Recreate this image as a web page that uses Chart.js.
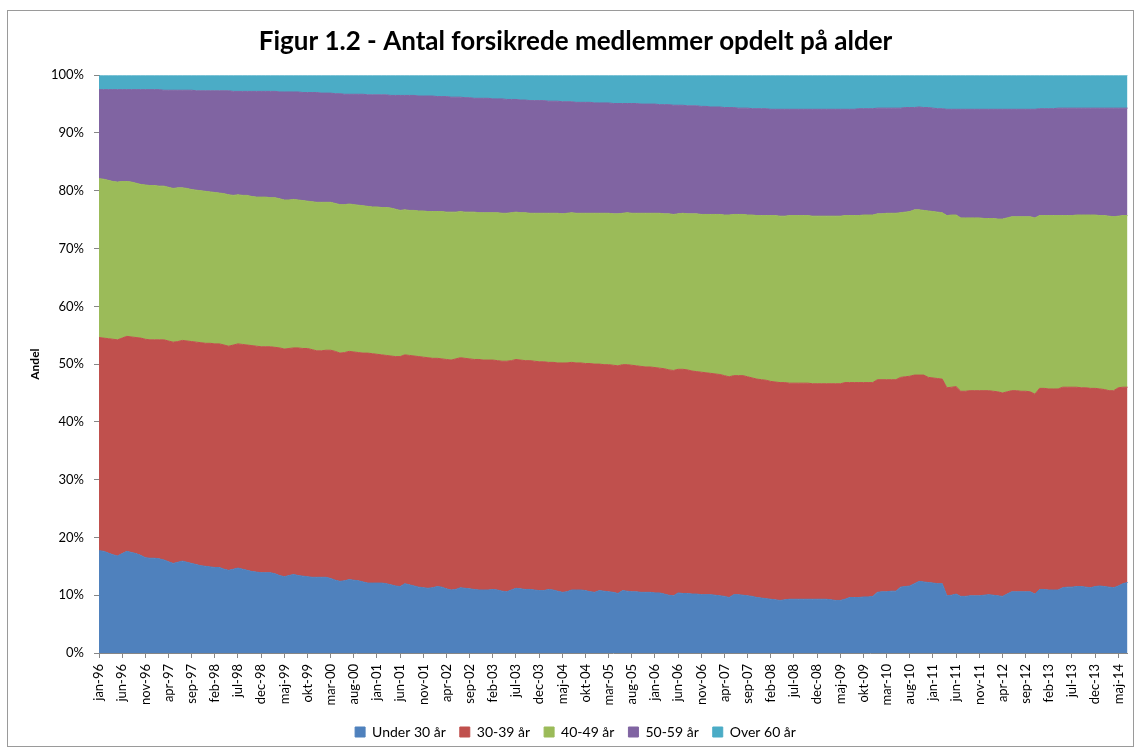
<!DOCTYPE html>
<html>
<head>
<meta charset="utf-8">
<script src="https://cdn.jsdelivr.net/npm/chart.js@4.4.1/dist/chart.umd.min.js"></script>
<style>
  html, body { margin: 0; padding: 0; background: #fff; }
  #wrap { position: relative; width: 1140px; height: 749px; }
  #frame { position: absolute; left: 7px; top: 10px; width: 1125px; height: 735px; border: 1px solid #9a9a9a; }
  #chart { position: absolute; left: 0; top: 0; }
</style>
</head>
<body>
<div id="wrap">
  <div id="frame"></div>
  <canvas id="chart" width="1140" height="749"></canvas>
</div>
<script>
// Month names (Danish) and years on the category axis, jan-96 .. jul-14
const monthNames = ['jan', 'feb', 'mar', 'apr', 'maj', 'jun', 'jul', 'aug', 'sep', 'okt', 'nov', 'dec'];
const years = ['96', '97', '98', '99', '00', '01', '02', '03', '04', '05', '06', '07', '08', '09', '10', '11', '12', '13', '14'];

// Upper edge of each band in percent
// Under 30 år (top of blue band)
const topUnder30 = [
  17.7, 17.6, 17.3, 17.0, 16.8, 17.2, 17.6, 17.4, 17.2, 16.9, 16.5, 16.4,
  16.4, 16.3, 16.1, 15.8, 15.5, 15.7, 15.9, 15.7, 15.5, 15.3, 15.1, 15.0,
  14.9, 14.8, 14.8, 14.5, 14.3, 14.5, 14.7, 14.5, 14.3, 14.1, 14.0, 13.9,
  13.9, 13.9, 13.7, 13.4, 13.2, 13.4, 13.6, 13.4, 13.3, 13.2, 13.1, 13.1,
  13.1, 13.1, 12.9, 12.6, 12.4, 12.5, 12.7, 12.6, 12.5, 12.3, 12.1, 12.1,
  12.1, 12.1, 12.0, 11.8, 11.6, 11.5, 12.0, 11.8, 11.6, 11.4, 11.3, 11.2,
  11.3, 11.5, 11.4, 11.1, 10.9, 11.0, 11.3, 11.2, 11.1, 11.0, 10.9, 10.9,
  10.9, 11.0, 10.9, 10.7, 10.6, 10.9, 11.2, 11.1, 11.0, 11.0, 10.9, 10.8,
  10.8, 11.0, 10.9, 10.7, 10.5, 10.6, 10.9, 10.9, 10.9, 10.8, 10.6, 10.5,
  10.8, 10.7, 10.6, 10.5, 10.3, 10.8, 10.7, 10.6, 10.6, 10.5, 10.5, 10.5,
  10.4, 10.4, 10.2, 10.0, 9.9, 10.4, 10.3, 10.3, 10.2, 10.2, 10.1, 10.1,
  10.1, 10.0, 9.9, 9.8, 9.6, 10.1, 10.1, 10.0, 9.9, 9.8, 9.6, 9.5,
  9.4, 9.3, 9.2, 9.1, 9.2, 9.3, 9.3, 9.3, 9.3, 9.3, 9.3, 9.3,
  9.3, 9.3, 9.2, 9.1, 9.1, 9.3, 9.6, 9.6, 9.6, 9.7, 9.7, 9.8,
  10.5, 10.6, 10.6, 10.7, 10.7, 11.4, 11.5, 11.6, 12.0, 12.4, 12.3, 12.2,
  12.1, 12.0, 12.0, 9.9, 10.0, 10.2, 9.8, 9.8, 9.9, 9.9, 9.9, 10.0,
  10.1, 10.0, 9.9, 9.8, 10.2, 10.6, 10.6, 10.6, 10.6, 10.6, 10.2, 11.0,
  11.0, 10.9, 10.9, 10.9, 11.3, 11.4, 11.4, 11.5, 11.5, 11.4, 11.3, 11.5,
  11.6, 11.5, 11.4, 11.3, 11.6, 12.0, 12.2
];

// 30-39 år (top of red band)
const top30to39 = [
  54.6, 54.5, 54.4, 54.3, 54.2, 54.5, 54.8, 54.7, 54.6, 54.5, 54.3, 54.2,
  54.2, 54.2, 54.2, 54.0, 53.8, 53.9, 54.1, 54.0, 53.9, 53.8, 53.7, 53.6,
  53.6, 53.5, 53.5, 53.3, 53.1, 53.3, 53.5, 53.4, 53.3, 53.2, 53.1, 53.0,
  53.0, 53.0, 52.9, 52.8, 52.6, 52.7, 52.8, 52.8, 52.7, 52.7, 52.5, 52.3,
  52.3, 52.4, 52.4, 52.2, 51.9, 52.0, 52.2, 52.1, 52.0, 51.9, 51.9, 51.8,
  51.7, 51.6, 51.5, 51.4, 51.3, 51.3, 51.6, 51.5, 51.4, 51.3, 51.2, 51.1,
  51.0, 51.0, 50.9, 50.8, 50.7, 50.9, 51.1, 51.0, 50.9, 50.8, 50.8, 50.7,
  50.7, 50.7, 50.6, 50.5, 50.5, 50.6, 50.8, 50.7, 50.6, 50.6, 50.5, 50.4,
  50.4, 50.3, 50.3, 50.2, 50.2, 50.2, 50.3, 50.2, 50.2, 50.1, 50.1, 50.0,
  50.0, 49.9, 49.9, 49.8, 49.7, 49.9, 49.9, 49.8, 49.7, 49.6, 49.5, 49.5,
  49.4, 49.3, 49.2, 49.0, 48.9, 49.1, 49.1, 49.0, 48.8, 48.7, 48.6, 48.5,
  48.4, 48.3, 48.2, 48.0, 47.8, 48.0, 48.0, 48.0, 47.8, 47.6, 47.4, 47.3,
  47.2, 47.0, 46.9, 46.8, 46.8, 46.7, 46.7, 46.7, 46.7, 46.7, 46.6, 46.6,
  46.6, 46.6, 46.6, 46.6, 46.6, 46.8, 46.8, 46.8, 46.8, 46.8, 46.8, 46.8,
  47.3, 47.3, 47.3, 47.3, 47.3, 47.7, 47.8, 47.9, 48.1, 48.1, 48.1, 47.7,
  47.6, 47.5, 47.4, 45.9, 46.0, 46.1, 45.3, 45.3, 45.4, 45.4, 45.4, 45.4,
  45.4, 45.3, 45.2, 45.0, 45.2, 45.4, 45.4, 45.3, 45.3, 45.2, 44.8, 45.8,
  45.8, 45.7, 45.7, 45.7, 46.0, 46.0, 46.0, 46.0, 45.9, 45.9, 45.8, 45.8,
  45.7, 45.6, 45.4, 45.4, 45.9, 46.0, 46.0
];

// 40-49 år (top of green band)
const top40to49 = [
  82.1, 82.0, 81.8, 81.6, 81.5, 81.6, 81.6, 81.5, 81.3, 81.1, 81.0, 80.9,
  80.9, 80.8, 80.8, 80.6, 80.4, 80.5, 80.5, 80.4, 80.2, 80.1, 80.0, 79.9,
  79.8, 79.7, 79.6, 79.5, 79.3, 79.2, 79.3, 79.2, 79.2, 79.0, 78.9, 78.9,
  78.9, 78.8, 78.8, 78.6, 78.4, 78.4, 78.5, 78.4, 78.3, 78.2, 78.1, 78.0,
  78.0, 78.0, 78.0, 77.8, 77.6, 77.6, 77.7, 77.6, 77.5, 77.4, 77.3, 77.2,
  77.2, 77.1, 77.1, 77.0, 76.8, 76.6, 76.7, 76.6, 76.6, 76.5, 76.5, 76.4,
  76.4, 76.4, 76.4, 76.3, 76.3, 76.3, 76.4, 76.3, 76.3, 76.3, 76.2, 76.2,
  76.2, 76.2, 76.2, 76.1, 76.1, 76.2, 76.3, 76.2, 76.2, 76.1, 76.1, 76.1,
  76.1, 76.1, 76.1, 76.1, 76.0, 76.1, 76.2, 76.1, 76.1, 76.1, 76.1, 76.1,
  76.1, 76.1, 76.1, 76.0, 76.0, 76.1, 76.2, 76.1, 76.1, 76.1, 76.1, 76.1,
  76.1, 76.1, 76.0, 76.0, 75.9, 76.0, 76.1, 76.0, 76.0, 76.0, 75.9, 75.9,
  75.9, 75.9, 75.9, 75.8, 75.8, 75.9, 75.9, 75.9, 75.8, 75.8, 75.7, 75.7,
  75.7, 75.7, 75.7, 75.6, 75.6, 75.7, 75.7, 75.7, 75.7, 75.7, 75.6, 75.6,
  75.6, 75.6, 75.6, 75.6, 75.6, 75.7, 75.7, 75.7, 75.7, 75.8, 75.8, 75.8,
  76.0, 76.0, 76.1, 76.1, 76.1, 76.2, 76.3, 76.4, 76.7, 76.7, 76.6, 76.5,
  76.4, 76.3, 76.2, 75.7, 75.8, 75.8, 75.3, 75.3, 75.3, 75.3, 75.3, 75.2,
  75.2, 75.2, 75.1, 75.1, 75.3, 75.5, 75.5, 75.5, 75.5, 75.5, 75.3, 75.7,
  75.7, 75.7, 75.7, 75.7, 75.7, 75.7, 75.7, 75.8, 75.8, 75.8, 75.8, 75.8,
  75.7, 75.7, 75.6, 75.5, 75.6, 75.7, 75.7
];

// 50-59 år (top of purple band); Over 60 år fills the rest up to 100 %
const top50to59 = [
  97.5, 97.5, 97.5, 97.5, 97.5, 97.5, 97.5, 97.5, 97.5, 97.5, 97.5, 97.5,
  97.5, 97.5, 97.4, 97.4, 97.4, 97.4, 97.4, 97.4, 97.4, 97.3, 97.3, 97.3,
  97.3, 97.3, 97.3, 97.3, 97.3, 97.2, 97.2, 97.2, 97.2, 97.2, 97.2, 97.2,
  97.2, 97.2, 97.2, 97.1, 97.1, 97.1, 97.1, 97.1, 97.0, 97.0, 97.0, 97.0,
  96.9, 96.9, 96.9, 96.8, 96.8, 96.7, 96.7, 96.7, 96.7, 96.7, 96.6, 96.6,
  96.6, 96.6, 96.6, 96.5, 96.5, 96.5, 96.5, 96.5, 96.5, 96.4, 96.4, 96.4,
  96.4, 96.3, 96.3, 96.3, 96.2, 96.2, 96.2, 96.1, 96.1, 96.0, 96.0, 96.0,
  96.0, 95.9, 95.9, 95.9, 95.8, 95.8, 95.8, 95.7, 95.7, 95.6, 95.6, 95.6,
  95.6, 95.5, 95.5, 95.5, 95.4, 95.4, 95.4, 95.3, 95.3, 95.3, 95.3, 95.2,
  95.2, 95.2, 95.2, 95.1, 95.1, 95.1, 95.1, 95.1, 95.1, 95.0, 95.0, 95.0,
  95.0, 94.9, 94.9, 94.9, 94.8, 94.8, 94.8, 94.7, 94.7, 94.7, 94.6, 94.6,
  94.5, 94.5, 94.5, 94.4, 94.4, 94.4, 94.3, 94.3, 94.3, 94.2, 94.2, 94.2,
  94.2, 94.1, 94.1, 94.1, 94.1, 94.1, 94.1, 94.1, 94.1, 94.1, 94.1, 94.1,
  94.1, 94.1, 94.1, 94.1, 94.1, 94.1, 94.1, 94.1, 94.2, 94.2, 94.2, 94.2,
  94.3, 94.3, 94.3, 94.3, 94.3, 94.3, 94.4, 94.4, 94.4, 94.5, 94.4, 94.4,
  94.3, 94.2, 94.2, 94.1, 94.1, 94.1, 94.1, 94.1, 94.1, 94.1, 94.1, 94.1,
  94.1, 94.1, 94.1, 94.1, 94.1, 94.1, 94.1, 94.1, 94.1, 94.1, 94.1, 94.2,
  94.2, 94.2, 94.2, 94.3, 94.3, 94.3, 94.3, 94.3, 94.3, 94.3, 94.3, 94.3,
  94.3, 94.3, 94.3, 94.3, 94.3, 94.3, 94.3
];

const seriesNames = ['Under 30 år', '30-39 år', '40-49 år', '50-59 år', 'Over 60 år'];
const seriesColors = ['#4F81BD', '#C0504D', '#9BBB59', '#8064A2', '#4BACC6'];

// Category labels
const labels = [];
years.forEach(y => monthNames.forEach(m => labels.push(m + '-' + y)));
labels.length = topUnder30.length;

// Band widths (shares) from the band edges
const edges = [topUnder30, top30to39, top40to49, top50to59, topUnder30.map(() => 100)];
const shares = edges.map((edge, s) =>
  edge.map((v, i) => Math.round((v - (s > 0 ? edges[s - 1][i] : 0)) * 10) / 10)
);

Chart.defaults.font.family = "Lato, 'DejaVu Sans', sans-serif";
Chart.defaults.color = '#000';

new Chart(document.getElementById('chart'), {
  type: 'line',
  data: {
    labels: labels,
    datasets: seriesNames.map((name, s) => ({
      label: name,
      data: shares[s],
      backgroundColor: seriesColors[s],
      borderColor: seriesColors[s],
      borderWidth: 1,
      pointRadius: 0,
      tension: 0,
      fill: s === 0 ? 'origin' : '-1'
    }))
  },
  options: {
    responsive: false,
    animation: false,
    devicePixelRatio: 1,
    layout: { padding: { left: 20, right: 9, top: 0, bottom: 0 } },
    plugins: {
      title: {
        display: true,
        text: 'Figur 1.2 - Antal forsikrede medlemmer opdelt på alder',
        font: { size: 26, weight: 'bold' },
        color: '#000',
        padding: { top: 26, bottom: 18 }
      },
      legend: {
        position: 'bottom',
        labels: {
          boxWidth: 10,
          boxHeight: 10,
          padding: 14,
          font: { size: 14 },
          color: '#000'
        }
      },
      tooltip: { enabled: false }
    },
    scales: {
      x: {
        ticks: {
          autoSkip: false,
          minRotation: 90,
          maxRotation: 90,
          padding: 6,
          font: { size: 13 },
          color: '#000',
          callback: function(value, index) {
            return index % 5 === 0 ? labels[index] : null;
          }
        },
        grid: { drawOnChartArea: false, tickLength: 5, color: '#868686' },
        border: { color: '#868686' },
        afterFit: function(scale) { scale.height = 58; }
      },
      y: {
        stacked: true,
        min: 0,
        max: 100,
        ticks: {
          stepSize: 10,
          padding: 10,
          font: { size: 13 },
          color: '#000',
          callback: function(value) { return value + '%'; }
        },
        grid: { drawOnChartArea: false, tickLength: 5, color: '#868686' },
        border: { color: '#868686' },
        title: {
          display: true,
          text: 'Andel',
          font: { size: 12, weight: 'bold' },
          color: '#000',
          padding: { top: 8, bottom: 0 }
        },
        afterFit: function(scale) { scale.width = 79; }
      }
    }
  }
});
</script>
</body>
</html>
